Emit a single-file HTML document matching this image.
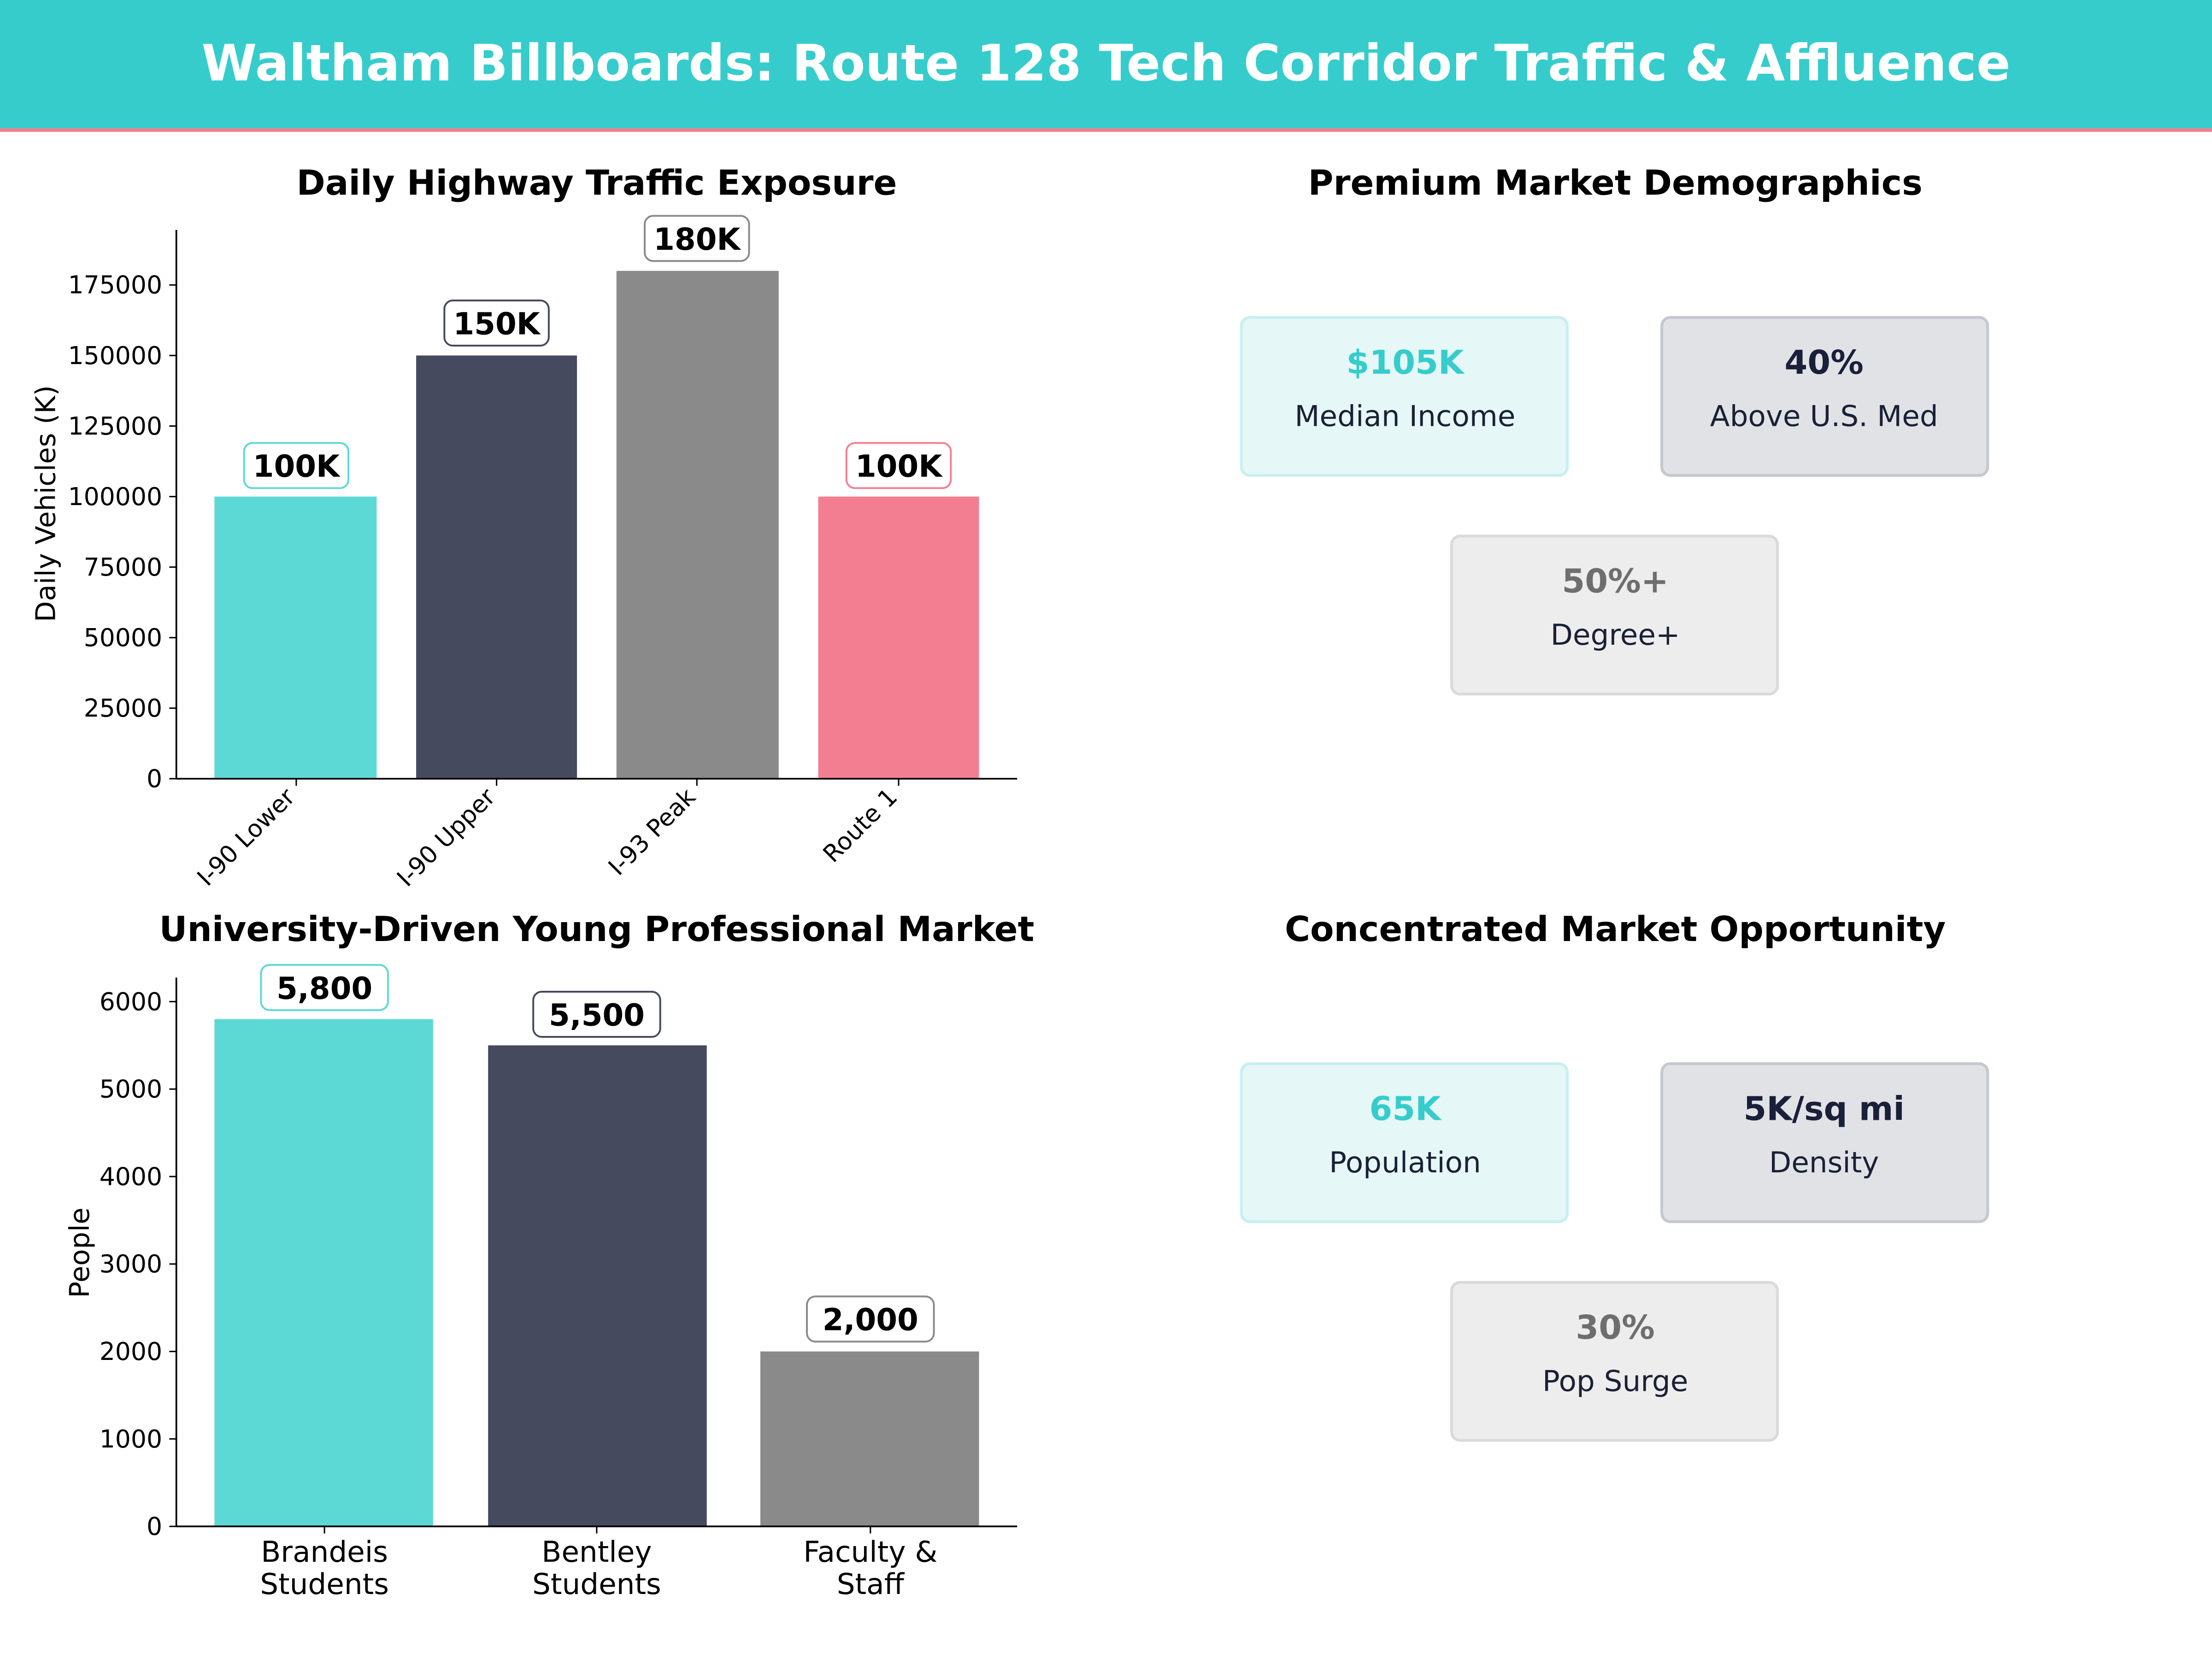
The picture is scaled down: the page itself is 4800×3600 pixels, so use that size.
<!DOCTYPE html>
<html><head><meta charset="utf-8"><style>html,body{margin:0;padding:0;background:#fff}svg{display:block}</style></head>
<body>
<svg width="4800" height="3600" viewBox="0 0 1568 1176" xmlns="http://www.w3.org/2000/svg" font-family="DejaVu Sans, Liberation Sans, sans-serif">
<rect width="1568" height="1176" fill="#fff"/>
<rect x="0" y="0" width="1568" height="91" fill="#36CCCC"/>
<rect x="0" y="91" width="1568" height="2.5" fill="#F47F8F"/>
<text x="784" y="57" text-anchor="middle" font-size="35.6" font-weight="bold" fill="#fff">Waltham Billboards: Route 128 Tech Corridor Traffic &amp; Affluence</text>

<!-- Chart 1 -->
<text x="423" y="138" text-anchor="middle" font-size="24.5" font-weight="bold">Daily Highway Traffic Exposure</text>
<rect x="152" y="352" width="115" height="200" fill="#5DD9D5"/>
<rect x="295" y="252" width="114" height="300" fill="#454A5F"/>
<rect x="437" y="192" width="115" height="360" fill="#8A8A8A"/>
<rect x="580" y="352" width="114" height="200" fill="#F47E91"/>
<g stroke="#000" stroke-width="1.2"><line x1="125" y1="163" x2="125" y2="552"/><line x1="125" y1="552" x2="721" y2="552"/></g>
<g font-size="17.5" text-anchor="end" fill="#000">
<text x="115" y="558">0</text><text x="115" y="508">25000</text><text x="115" y="458">50000</text><text x="115" y="408">75000</text><text x="115" y="358">100000</text><text x="115" y="308">125000</text><text x="115" y="258">150000</text><text x="115" y="208">175000</text>
</g>
<g stroke="#000"><line x1="120" y1="552" x2="125" y2="552"/><line x1="120" y1="502" x2="125" y2="502"/><line x1="120" y1="452" x2="125" y2="452"/><line x1="120" y1="402" x2="125" y2="402"/><line x1="120" y1="352" x2="125" y2="352"/><line x1="120" y1="302" x2="125" y2="302"/><line x1="120" y1="252" x2="125" y2="252"/><line x1="120" y1="202" x2="125" y2="202"/>
<line x1="210" y1="552" x2="210" y2="557"/><line x1="352" y1="552" x2="352" y2="557"/><line x1="494" y1="552" x2="494" y2="557"/><line x1="637" y1="552" x2="637" y2="557"/></g>
<text transform="translate(39,357) rotate(-90)" text-anchor="middle" font-size="19.3">Daily Vehicles (K)</text>
<g font-size="17" text-anchor="end">
<text transform="translate(210,566) rotate(-45)">I-90 Lower</text>
<text transform="translate(352,566) rotate(-45)">I-90 Upper</text>
<text transform="translate(494,566) rotate(-45)">I-93 Peak</text>
<text transform="translate(637,566) rotate(-45)">Route 1</text>
</g>
<g font-size="21.5" font-weight="bold" text-anchor="middle">
<rect x="173" y="314" width="74" height="32" rx="6" fill="#fff" stroke="#5DD9D5" stroke-width="1.3"/><text x="210" y="338">100K</text>
<rect x="315" y="213" width="74" height="32" rx="6" fill="#fff" stroke="#454A5F" stroke-width="1.3"/><text x="352" y="237">150K</text>
<rect x="457" y="153" width="74" height="32" rx="6" fill="#fff" stroke="#8A8A8A" stroke-width="1.3"/><text x="494" y="177">180K</text>
<rect x="600" y="314" width="74" height="32" rx="6" fill="#fff" stroke="#F47E91" stroke-width="1.3"/><text x="637" y="338">100K</text>
</g>

<!-- Chart 2 -->
<text x="423" y="667" text-anchor="middle" font-size="24.5" font-weight="bold">University-Driven Young Professional Market</text>
<rect x="152" y="722.4" width="155" height="359.6" fill="#5DD9D5"/>
<rect x="346" y="741" width="155" height="341" fill="#454A5F"/>
<rect x="539" y="958" width="155" height="124" fill="#8A8A8A"/>
<g stroke="#000" stroke-width="1.2"><line x1="125" y1="693" x2="125" y2="1082"/><line x1="125" y1="1082" x2="721" y2="1082"/></g>
<g stroke="#000"><line x1="120" y1="1082" x2="125" y2="1082"/><line x1="120" y1="1020" x2="125" y2="1020"/><line x1="120" y1="958" x2="125" y2="958"/><line x1="120" y1="896" x2="125" y2="896"/><line x1="120" y1="834" x2="125" y2="834"/><line x1="120" y1="772" x2="125" y2="772"/><line x1="120" y1="710" x2="125" y2="710"/>
<line x1="230" y1="1082" x2="230" y2="1087"/><line x1="423" y1="1082" x2="423" y2="1087"/><line x1="617" y1="1082" x2="617" y2="1087"/></g>
<g font-size="17.5" text-anchor="end">
<text x="115" y="1088">0</text><text x="115" y="1026">1000</text><text x="115" y="964">2000</text><text x="115" y="902">3000</text><text x="115" y="840">4000</text><text x="115" y="778">5000</text><text x="115" y="716">6000</text>
</g>
<text transform="translate(63,888) rotate(-90)" text-anchor="middle" font-size="19.3">People</text>
<g font-size="20.5" text-anchor="middle">
<text x="230" y="1107">Brandeis</text><text x="230" y="1130">Students</text>
<text x="423" y="1107">Bentley</text><text x="423" y="1130">Students</text>
<text x="617" y="1107">Faculty &amp;</text><text x="617" y="1130">Staff</text>
</g>
<g font-size="21.5" font-weight="bold" text-anchor="middle">
<rect x="185" y="684" width="90" height="32" rx="6" fill="#fff" stroke="#5DD9D5" stroke-width="1.3"/><text x="230" y="708">5,800</text>
<rect x="378" y="703" width="90" height="32" rx="6" fill="#fff" stroke="#454A5F" stroke-width="1.3"/><text x="423" y="727">5,500</text>
<rect x="572" y="919" width="90" height="32" rx="6" fill="#fff" stroke="#8A8A8A" stroke-width="1.3"/><text x="617" y="943">2,000</text>
</g>

<!-- Right panels -->
<g text-anchor="middle">
<text x="1145" y="138" font-size="24.5" font-weight="bold">Premium Market Demographics</text>
<rect x="880" y="225" width="231" height="112" rx="6" fill="#E5F7F7" stroke="#C9EFEF" stroke-width="2"/>
<text x="996" y="265" font-size="23.4" font-weight="bold" fill="#36CCCC">$105K</text>
<text x="996" y="302" font-size="20.5" fill="#1A2035">Median Income</text>
<rect x="1178" y="225" width="231" height="112" rx="6" fill="#E1E2E6" stroke="#C6C8CF" stroke-width="2"/>
<text x="1293" y="265" font-size="23.4" font-weight="bold" fill="#1A1F3A">40%</text>
<text x="1293" y="302" font-size="20.5" fill="#1A2035">Above U.S. Med</text>
<rect x="1029" y="380" width="231" height="112" rx="6" fill="#EDEDED" stroke="#DADADA" stroke-width="2"/>
<text x="1145" y="420" font-size="23.4" font-weight="bold" fill="#6E6E6E">50%+</text>
<text x="1145" y="457" font-size="20.5" fill="#1A2035">Degree+</text>

<text x="1145" y="667" font-size="24.5" font-weight="bold">Concentrated Market Opportunity</text>
<rect x="880" y="754" width="231" height="112" rx="6" fill="#E5F7F7" stroke="#C9EFEF" stroke-width="2"/>
<text x="996" y="794" font-size="23.4" font-weight="bold" fill="#36CCCC">65K</text>
<text x="996" y="831" font-size="20.5" fill="#1A2035">Population</text>
<rect x="1178" y="754" width="231" height="112" rx="6" fill="#E1E2E6" stroke="#C6C8CF" stroke-width="2"/>
<text x="1293" y="794" font-size="23.4" font-weight="bold" fill="#1A1F3A">5K/sq mi</text>
<text x="1293" y="831" font-size="20.5" fill="#1A2035">Density</text>
<rect x="1029" y="909" width="231" height="112" rx="6" fill="#EDEDED" stroke="#DADADA" stroke-width="2"/>
<text x="1145" y="949" font-size="23.4" font-weight="bold" fill="#6E6E6E">30%</text>
<text x="1145" y="986" font-size="20.5" fill="#1A2035">Pop Surge</text>
</g>
</svg>
</body></html>
